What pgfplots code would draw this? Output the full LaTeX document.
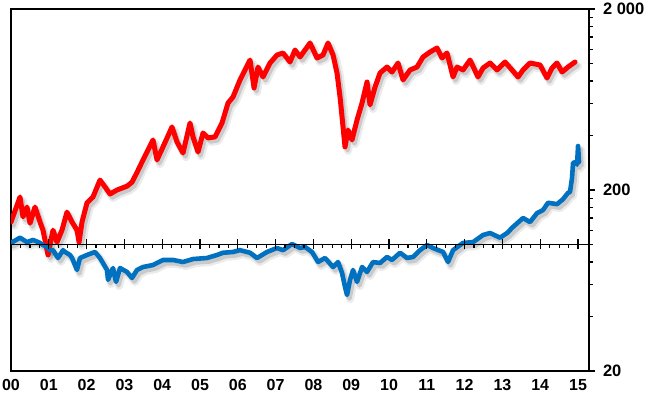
\documentclass[border=0pt]{standalone}
\usepackage{fontspec}
\setmainfont{Liberation Sans}
\usepackage{pgfplots}
\usepackage{pgfplotstable}
\pgfplotsset{compat=1.18}
\definecolor{myred}{RGB}{255,0,0}
\definecolor{myblue}{RGB}{0,112,192}

\pgfplotstableread{
x y
0 133
0.238 183
0.317 142
0.423 161
0.503 131
0.635 161
0.767 133
0.847 120
0.979 87.5
1.111 120
1.217 103
1.349 120
1.481 151
1.614 133
1.746 120
1.80 103
1.878 133
2.011 170
2.169 183
2.354 227
2.487 208
2.619 190
2.804 200
3.069 210
3.201 221
3.333 250
3.492 293
3.624 333
3.757 378
3.862 293
4.021 346
4.259 446
4.392 368
4.550 320
4.735 469
4.815 393
4.947 324
5.079 413
5.212 388
5.397 393
5.582 469
5.741 605
5.873 653
6.058 811
6.190 921
6.323 1045
6.429 732
6.534 956
6.667 842
6.852 1006
7.037 1114
7.196 1143
7.381 1019
7.513 1187
7.646 1086
7.910 1298
8.095 1072
8.254 1114
8.386 1298
8.519 1114
8.624 886
8.704 653
8.757 506
8.836 346
8.915 429
9.021 378
9.153 487
9.286 605
9.418 790
9.497 590
9.630 741
9.762 886
9.947 956
10.079 897
10.238 1006
10.370 811
10.556 921
10.741 956
10.899 1086
11.085 1157
11.270 1218
11.402 1072
11.534 1143
11.693 842
11.799 956
11.958 921
12.143 1045
12.354 842
12.487 944
12.672 1006
12.857 921
13.069 1019
13.254 921
13.413 842
13.545 921
13.730 1006
13.995 981
14.180 831
14.312 944
14.444 1006
14.577 897
14.735 956
14.921 1019
}\reddata

\pgfplotstableread{
x y
0 102
0.238 109
0.423 103
0.582 106
0.767 102
0.847 99.3
0.952 96.9
1.032 93
1.111 93
1.243 84.2
1.376 93
1.429 90.9
1.561 87.5
1.614 84.2
1.746 72.3
1.825 84.2
2.011 87.5
2.222 90.9
2.354 84.2
2.540 72.3
2.566 63.7
2.698 74.1
2.778 62.1
2.884 74.1
3.069 70.5
3.201 65.3
3.333 72.3
3.492 75.1
3.757 77
4.021 82.1
4.286 82.1
4.550 80
4.815 83.1
5.185 84.2
5.450 87.5
5.608 90
5.873 90.9
6.058 93
6.323 90
6.508 84.2
6.772 90.9
7.037 95.6
7.196 93
7.434 100.6
7.646 95.6
7.778 96.9
7.963 90.9
8.122 80
8.307 84.2
8.519 75.1
8.651 80
8.757 69.6
8.836 58.2
8.889 52.6
8.968 63.7
9.048 72.3
9.153 62.1
9.286 75.1
9.418 70.5
9.577 80
9.762 79
9.947 85.3
10.079 82.1
10.291 90
10.476 84.2
10.635 85.3
10.820 93
11.005 99.3
11.164 95.6
11.429 90.9
11.561 80
11.693 93
11.958 102
12.222 103
12.487 112.8
12.672 115.7
12.937 109
13.122 115.7
13.280 125
13.545 140
13.730 133
13.915 149
14.074 155
14.206 170
14.444 167
14.603 178
14.735 193
14.788 195
14.841 233
14.868 282
14.947 286
14.974 276
15.0 350
15.026 286
}\bluedata

\begin{document}
\begin{tikzpicture}
\begin{axis}[
  at={(0,0)}, anchor=south west,
  scale only axis, width=578pt, height=362pt,
  xmin=0, xmax=15.29,
  ymode=log, ymin=20, ymax=2000,
  ytick={20,200,2000}, yticklabels={20,200,2\ 000},
  minor ytick={40,60,80,100,120,140,160,180,400,600,800,1000,1200,1400,1600,1800},
  ytick pos=right, yticklabel pos=right,
  tick align=outside,
  major tick length=6pt, minor tick length=4pt,
  xtick={0,1,2,3,4,5,6,7,8,9,10,11,12,13,14,15},
  xticklabels={00,01,02,03,04,05,06,07,08,09,10,11,12,13,14,15},
  x tick style={draw=none},
  y tick style={line width=1.2pt, black},
  axis line style={line width=1.6pt},
  ticklabel style={font=\bfseries\fontsize{16.5}{16.5}\selectfont},
  xticklabel style={font=\bfseries\fontsize{16}{16}\selectfont, inner sep=0.5pt, yshift=-2pt},
  yticklabel style={xshift=4.5pt},
  /pgf/number format/assume math mode=true,
  every axis plot/.append style={no marks, line join=round, line cap=round},
]
\addplot[draw=black, opacity=0.08, line width=8pt, xshift=3pt, yshift=-4pt] table {\reddata};
\addplot[draw=black, opacity=0.14, line width=4.5pt, xshift=2.5pt, yshift=-3.5pt] table {\reddata};
\addplot[draw=black, opacity=0.08, line width=8pt, xshift=3pt, yshift=-4pt] table {\bluedata};
\addplot[draw=black, opacity=0.14, line width=4.5pt, xshift=2.5pt, yshift=-3.5pt] table {\bluedata};
\addplot[draw=myred, line width=5pt] table {\reddata};
\addplot[draw=myblue, line width=4.6pt] table {\bluedata};
\end{axis}
% horizontal reference axis at 100 with year ticks
\draw[line width=1.6pt] (0,126.5pt) -- (578pt,126.5pt);
\foreach \i in {1,...,15} {\draw[line width=1.2pt] ({\i*37.8pt},121.5pt) -- ({\i*37.8pt},131.5pt);}
\foreach \i in {0,...,14} {
  \foreach \q in {0.25,0.5,0.75} {\draw[line width=1.2pt] ({(\i+\q)*37.8pt},126.5pt) -- ({(\i+\q)*37.8pt},122.5pt);}
}
\pgfresetboundingbox
\useasboundingbox (-11pt,-24pt) rectangle (642pt,371pt);
\end{tikzpicture}
\end{document}
